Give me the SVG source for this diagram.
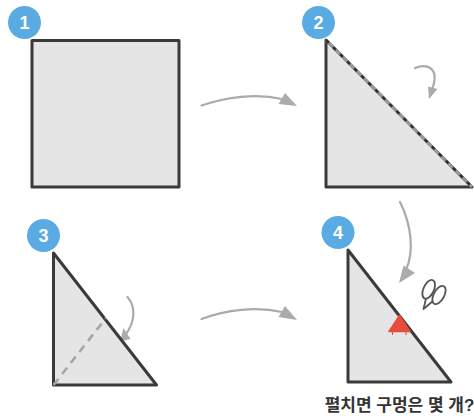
<svg xmlns="http://www.w3.org/2000/svg" width="474" height="416" viewBox="0 0 474 416">
<style>
.b{fill:#5aabe3}
.n{font:bold 18px "Liberation Sans","Noto Sans",sans-serif;fill:#fff;text-anchor:middle}
.s{fill:#e5e5e5;stroke:#3a3a3a;stroke-width:3;stroke-linejoin:round}
.c{fill:none;stroke:#ababab;stroke-width:2.2;stroke-linecap:round}
.h{fill:#ababab}
</style>
<g id="connectors">
<path class="c" d="M201.500 105.500C226 97 256 93 282 99"/><path class="h" d="M297 106L278.500 104L285 93Z"/>
<path class="c" d="M415 68C428 63 436 69 434.500 80Q433.500 86 432.500 88"/><path class="h" d="M429 99L428 86.500L437.500 89Z"/>
<path class="c" d="M400 202C412 226 414 252 406 270"/><path class="h" d="M399 283L403.500 265.500L415 273Z"/>
<path class="c" d="M201.500 319C226 310 256 306 282 312"/><path class="h" d="M297 320L278.500 317L285 306Z"/>
<path class="c" d="M127.500 297C137 308 134 323 126 334"/><path class="h" d="M120 341.500L123.500 328L130.500 339Z"/>
</g>
<g id="node1">
<rect class="s" x="32" y="40.500" width="147" height="146.500"/>
<circle class="b" cx="24.500" cy="22.500" r="16.500"/><text class="n" x="24.500" y="29">1</text>
</g>
<g id="node2">
<path class="s" d="M326 40L326 187L472 187Z"/>
<path d="M326 40L472 187" fill="none" stroke="#999" stroke-width="3"/>
<path d="M326 40L472 187" fill="none" stroke="#2d2d2d" stroke-width="2.400" stroke-dasharray="4 6"/>
<circle class="b" cx="318.500" cy="22.500" r="16.500"/><text class="n" x="318.500" y="29">2</text>
</g>
<g id="node3">
<path class="s" d="M53.500 253L53.500 385L156.500 385Z"/>
<path d="M53.500 385L106 318" fill="none" stroke="#a6a6a6" stroke-width="2.600" stroke-dasharray="8 6"/>
<circle class="b" cx="43.500" cy="235.500" r="16.500"/><text class="n" x="43.500" y="242">3</text>
</g>
<g id="node4">
<path class="s" d="M348 250L348 382L451 382Z"/>
<path d="M399.500 315.500L389 331.500H410Z" fill="#e74c3c" stroke="#e74c3c" stroke-width="1.500" stroke-linejoin="round"/>
<path d="M392.500 332v3M406 332v3" stroke="#e74c3c" stroke-width="1"/>
<g fill="none" stroke="#555" stroke-width="1.800">
<ellipse cx="428.700" cy="289.300" rx="5.200" ry="10" transform="rotate(25 428.700 289.300)"/>
<ellipse cx="439" cy="295" rx="5.200" ry="10" transform="rotate(29 439 295)"/>
<path d="M426 298.500L423.500 309L433 301" stroke-linejoin="round"/>
</g>
<circle class="b" cx="338" cy="232.500" r="16.500"/><text class="n" x="338" y="239">4</text>
<text x="399.500" y="411" text-anchor="middle" font-family="'Liberation Sans','Noto Sans CJK KR',sans-serif" font-size="17" font-weight="bold" fill="#333">펼치면 구멍은 몇 개?</text>
</g>
</svg>
